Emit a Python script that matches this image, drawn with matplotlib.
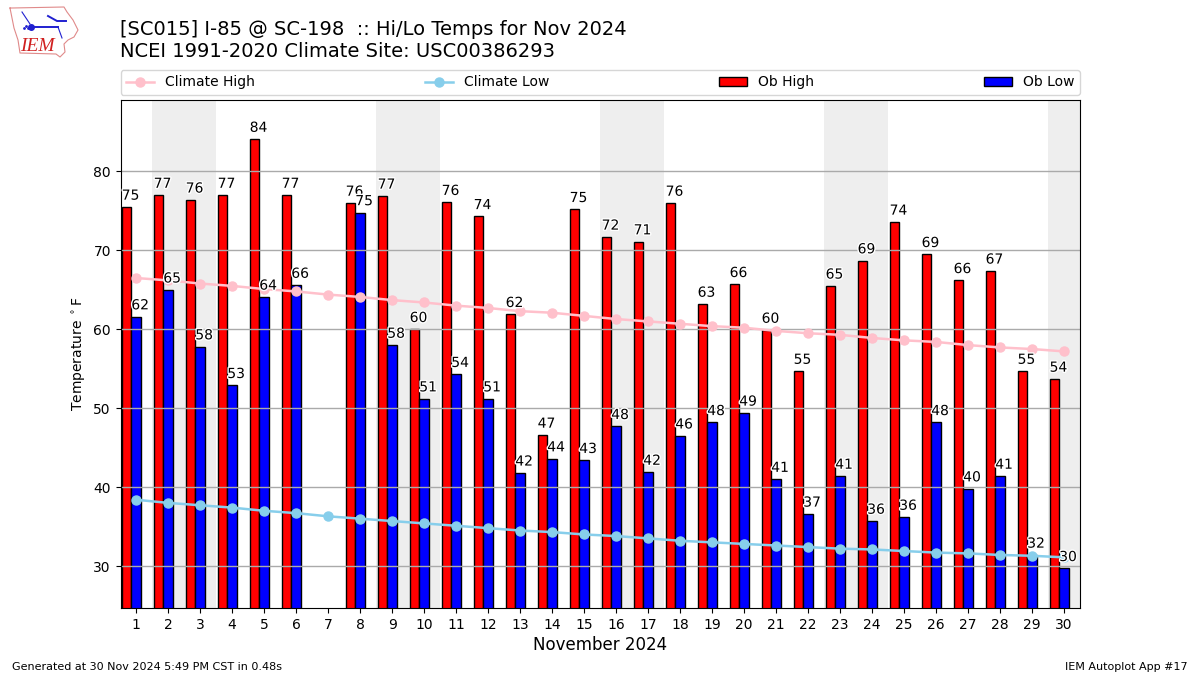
import matplotlib
matplotlib.use('Agg')
import matplotlib.pyplot as plt
import matplotlib.patheffects as PathEffects
import numpy as np

days = list(range(1, 31))
highs = [75.5, 77.0, 76.4, 77.0, 84.1, 77.0, np.nan, 76.0, 76.9, 60.0,
         76.1, 74.3, 61.9, 46.6, 75.2, 71.7, 71.1, 76.0, 63.2, 65.7,
         59.9, 54.7, 65.5, 68.7, 73.6, 69.5, 66.2, 67.4, 54.7, 53.7]
lows = [61.6, 65.0, 57.8, 52.9, 64.1, 65.6, np.nan, 74.8, 58.0, 51.2,
        54.3, 51.2, 41.8, 43.6, 43.4, 47.7, 41.9, 46.5, 48.2, 49.4,
        41.0, 36.6, 41.4, 35.7, 36.2, 48.2, 39.8, 41.4, 31.4, 29.7]
high_labels = [75, 77, 76, 77, 84, 77, None, 76, 77, 60, 76, 74, 62, 47, 75,
               72, 71, 76, 63, 66, 60, 55, 65, 69, 74, 69, 66, 67, 55, 54]
low_labels = [62, 65, 58, 53, 64, 66, None, 75, 58, 51, 54, 51, 42, 44, 43,
              48, 42, 46, 48, 49, 41, 37, 41, 36, 36, 48, 40, 41, 32, 30]
clim_high = [66.5, 66.2, 65.8, 65.5, 65.1, 64.8, 64.4, 64.1, 63.7, 63.4,
             63.0, 62.7, 62.3, 62.1, 61.7, 61.3, 61.0, 60.7, 60.4, 60.2,
             59.8, 59.5, 59.3, 58.9, 58.6, 58.4, 58.0, 57.7, 57.5, 57.2]
clim_low = [38.4, 38.0, 37.7, 37.4, 37.0, 36.7, 36.3, 36.0, 35.7, 35.4,
            35.1, 34.8, 34.5, 34.3, 34.0, 33.8, 33.5, 33.2, 33.0, 32.8,
            32.6, 32.4, 32.2, 32.1, 31.9, 31.7, 31.6, 31.4, 31.3, 31.1]
weekends = [(1.5, 3.5), (8.5, 10.5), (15.5, 17.5), (22.5, 24.5), (29.5, 31.5)]

# rough outline of the logo, in logo units
logo_x = [10, 12, 64, 67, 73, 78, 74, 68, 64, 65, 60, 56, 20, 18, 14, 10]
logo_y = [8, 8, 7, 12, 20, 30, 37, 40, 44, 52, 57, 54, 53, 40, 28, 8]

W, H = 1200, 675


def fx(px):
    return px / W


def fy(py):
    return 1 - py / H


fig = plt.figure(figsize=(12, 6.75), dpi=100)
ax = fig.add_axes([fx(120.6), fy(608), (1080 - 120.6) / W, (608 - 100) / H])

x = np.array(days)
width = 0.3
for start, end in weekends:
    ax.axvspan(start, end, color='#eeeeee', lw=0, zorder=0)

ax.bar(x - width, highs, width, color='red', edgecolor='black', label='Ob High', zorder=1)
ax.bar(x, lows, width, color='blue', edgecolor='black', label='Ob Low', zorder=1)
ax.plot(x, clim_high, color='pink', marker='o', ms=6.5, lw=1.8, label='Climate High', zorder=3)
ax.plot(x, clim_low, color='skyblue', marker='o', ms=6.5, lw=1.8, label='Climate Low', zorder=3)

halo = [PathEffects.withStroke(linewidth=2, foreground='white')]
for i, day in enumerate(days):
    if high_labels[i] is not None:
        ax.text(day - 1.5 * width, highs[i] + 0.55, str(high_labels[i]), ha='left', va='bottom',
                fontsize=10, path_effects=halo, zorder=4)
    if low_labels[i] is not None:
        ax.text(day - 0.5 * width, lows[i] + 0.55, str(low_labels[i]), ha='left', va='bottom',
                fontsize=10, path_effects=halo, zorder=4)

ax.set_xlim(0.515, 30.5)
ax.set_ylim(24.68, 89.06)
ax.set_xticks(days)
ax.set_yticks([30, 40, 50, 60, 70, 80])
ax.tick_params(axis='x', labelsize=10)
ax.tick_params(axis='y', labelsize=10)
ax.yaxis.grid(True, color='#aaaaaa', lw=1)
ax.set_axisbelow('line')
ax.set_xlabel('November 2024', fontsize=12, labelpad=3)
ax.set_ylabel(r'Temperature $^\circ$F', fontsize=10, labelpad=4)

handles, labels = ax.get_legend_handles_labels()
order = [labels.index(n) for n in ['Climate High', 'Climate Low', 'Ob High', 'Ob Low']]
ax.legend([handles[i] for i in order], [labels[i] for i in order], ncol=4, mode='expand',
          loc='lower left', bbox_to_anchor=(0, 1.01, 1, 0.05), borderaxespad=0, fontsize=10)

fig.text(fx(120), fy(35), '[SC015] I-85 @ SC-198  :: Hi/Lo Temps for Nov 2024', fontsize=14, va='baseline')
fig.text(fx(120), fy(57), 'NCEI 1991-2020 Climate Site: USC00386293', fontsize=14, va='baseline')
fig.text(fx(12), fy(670), 'Generated at 30 Nov 2024 5:49 PM CST in 0.48s', fontsize=8, va='baseline')
fig.text(fx(1188), fy(670), 'IEM Autoplot App #17', fontsize=8, ha='right', va='baseline')

# logo
logo = fig.add_axes([0, fy(60), 80 / W, 60 / H])
logo.set_xlim(0, 80)
logo.set_ylim(60, 0)
logo.axis('off')
logo.plot(logo_x, logo_y, color='#e08a8a', lw=0.8)
logo.plot([30, 58], [27, 27], color='#2020d0', lw=1.4)
logo.plot([31], [27], 'o', color='#2020d0', ms=4)
logo.plot([48, 57, 66], [16, 21, 21], color='#2020d0', lw=1.4)
logo.plot([58, 62], [27, 38], color='#2020d0', lw=0.8)
logo.plot([22, 30], [12, 24], color='#2020d0', lw=0.8)
logo.plot([24, 26, 28], [28, 26, 28], '.', color='#2020d0', ms=2)
logo.text(20, 51, 'IEM', color='#d02020', fontsize=14, family='Liberation Serif', style='italic')

fig.savefig('out.png', dpi=100)
